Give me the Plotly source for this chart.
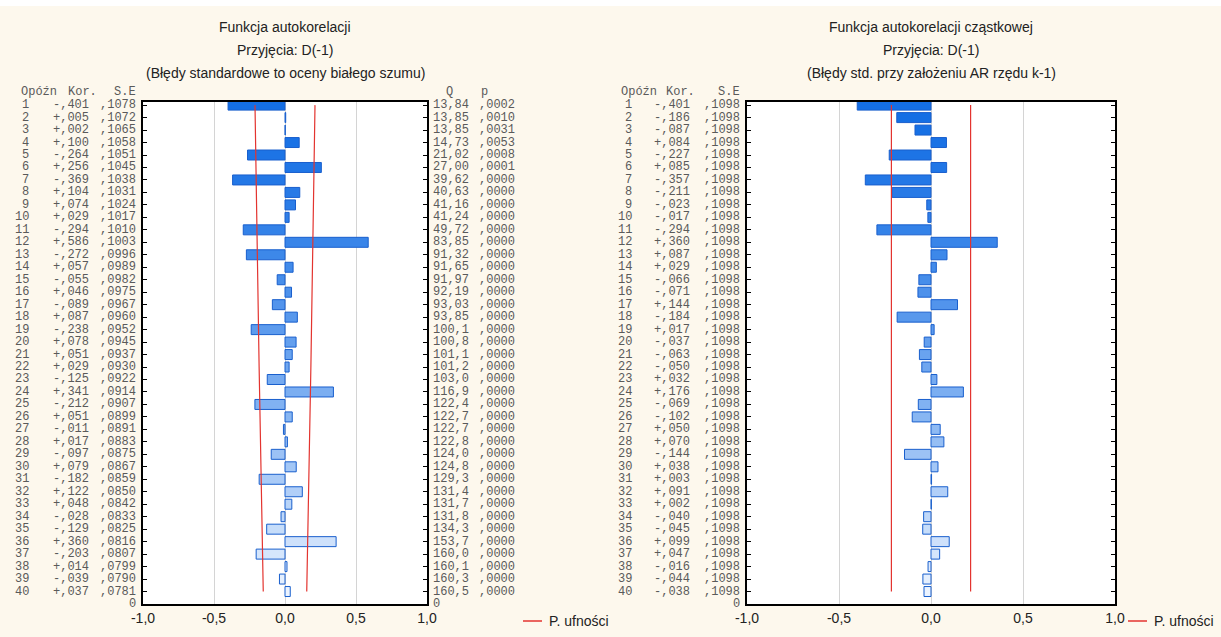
import plotly.graph_objects as go

W, H = 1221, 637

lags = list(range(1, 41))

acf = [-.401, .005, .002, .100, -.264, .256, -.369, .104, .074, .029,
       -.294, .586, -.272, .057, -.055, .046, -.089, .087, -.238, .078,
       .051, .029, -.125, .341, -.212, .051, -.011, .017, -.097, .079,
       -.182, .122, .048, -.028, -.129, .360, -.203, .014, -.039, .037]

acf_se = [.1078, .1072, .1065, .1058, .1051, .1045, .1038, .1031, .1024, .1017,
          .1010, .1003, .0996, .0989, .0982, .0975, .0967, .0960, .0952, .0945,
          .0937, .0930, .0922, .0914, .0907, .0899, .0891, .0883, .0875, .0867,
          .0859, .0850, .0842, .0833, .0825, .0816, .0807, .0799, .0790, .0781]

q_stat = [13.84, 13.85, 13.85, 14.73, 21.02, 27.00, 39.62, 40.63, 41.16, 41.24,
          49.72, 83.85, 91.32, 91.65, 91.97, 92.19, 93.03, 93.85, 100.1, 100.8,
          101.1, 101.2, 103.0, 116.9, 122.4, 122.7, 122.7, 122.8, 124.0, 124.8,
          129.3, 131.4, 131.7, 131.8, 134.3, 153.7, 160.0, 160.1, 160.3, 160.5]

p_val = [.0002, .0010, .0031, .0053, .0008, .0001] + [.0000] * 34

pacf = [-.401, -.186, -.087, .084, -.227, .085, -.357, -.211, -.023, -.017,
        -.294, .360, .087, .029, -.066, -.071, .144, -.184, .017, -.037,
        -.063, -.050, .032, .176, -.069, -.102, .050, .070, -.144, .038,
        .003, .091, .002, -.040, -.045, .099, .047, -.016, -.044, -.038]

pacf_se = [.1098] * 40

x_ticks = [-1.0, -0.5, 0.0, 0.5, 1.0]
x_ticktext = ["-1,0", "-0,5", "0,0", "0,5", "1,0"]

titles_left = ["Funkcja autokorelacji", "Przyjęcia: D(-1)",
               "(Błędy standardowe to oceny białego szumu)"]
titles_right = ["Funkcja autokorelacji cząstkowej", "Przyjęcia: D(-1)",
                "(Błędy std. przy założeniu AR rzędu k-1)"]
legend_label = "P. ufności"
z = 1.96


def px(p):
    return p / W


def py(p):
    return 1 - p / H


def fmt_corr(v):
    s = f"{abs(v):.3f}"[1:].replace(".", ",")
    return ("-" if v < 0 else "+") + s


def fmt_se(v):
    return f"{v:.4f}"[1:].replace(".", ",")


def fmt_q(v):
    return (f"{v:.2f}" if v < 100 else f"{v:.1f}").replace(".", ",")


def bar_colors(n):
    c0 = (20, 110, 228)
    c1 = (236, 244, 255)
    out = []
    for i in range(n):
        t = (i / (n - 1)) ** 1.4
        c = [round(a + (b - a) * t) for a, b in zip(c0, c1)]
        out.append(f"rgb({c[0]},{c[1]},{c[2]})")
    return out


cols = bar_colors(len(lags))
RED = "#e3342f"
MONO = dict(family="Liberation Mono, DejaVu Sans Mono, monospace", size=12, color="#5a5a5a")
NARROW = "Liberation Sans Narrow, Arial Narrow, Liberation Sans, Arial"

fig = go.Figure()

# left: ACF
fig.add_trace(go.Bar(x=acf, y=lags, orientation="h", width=0.8,
                     marker=dict(color=cols, line=dict(color="rgb(25,95,205)", width=1)),
                     xaxis="x", yaxis="y", showlegend=False))
fig.add_trace(go.Scatter(x=[z * s for s in acf_se], y=lags, mode="lines",
                         line=dict(color=RED, width=1.2), xaxis="x", yaxis="y", showlegend=False))
fig.add_trace(go.Scatter(x=[-z * s for s in acf_se], y=lags, mode="lines",
                         line=dict(color=RED, width=1.2), xaxis="x", yaxis="y", showlegend=False))

# right: PACF
fig.add_trace(go.Bar(x=pacf, y=lags, orientation="h", width=0.8,
                     marker=dict(color=cols, line=dict(color="rgb(25,95,205)", width=1)),
                     xaxis="x2", yaxis="y2", showlegend=False))
fig.add_trace(go.Scatter(x=[z * s for s in pacf_se], y=lags, mode="lines",
                         line=dict(color=RED, width=1.2), xaxis="x2", yaxis="y2", showlegend=False))
fig.add_trace(go.Scatter(x=[-z * s for s in pacf_se], y=lags, mode="lines",
                         line=dict(color=RED, width=1.2), xaxis="x2", yaxis="y2", showlegend=False))

xcommon = dict(range=[-1, 1], tickvals=x_ticks, ticktext=x_ticktext, showgrid=True,
               gridcolor="#d4d4d4", gridwidth=1, zeroline=False, showline=True,
               linecolor="black", linewidth=1.5, mirror=True, ticks="",
               tickfont=dict(family=NARROW, size=14, color="#222"), fixedrange=True,
               automargin=False)
ycommon = dict(range=[41, 0.75], tickvals=lags, showticklabels=False, ticks="inside",
               ticklen=4, tickcolor="black", showgrid=False, zeroline=False, showline=True,
               linecolor="black", linewidth=1.5, mirror="ticks",
               domain=[py(604), py(102)], fixedrange=True, automargin=False)

fig.update_layout(
    width=W, height=H, autosize=False, margin=dict(l=0, r=0, t=0, b=0, pad=0),
    paper_bgcolor="#fdf8ed", plot_bgcolor="white",
    xaxis=dict(domain=[px(143), px(427)], anchor="y", **xcommon),
    yaxis=dict(anchor="x", **ycommon),
    xaxis2=dict(domain=[px(747), px(1115)], anchor="y2", **xcommon),
    yaxis2=dict(anchor="x2", **ycommon),
    bargap=0.2,
)

ann = []
shapes = [dict(type="rect", xref="paper", yref="paper", x0=0, x1=1, y0=py(6), y1=1,
               fillcolor="white", line=dict(width=0), layer="below")]


def txt(text, x, y, xanchor="center", yref="paper", font=None):
    ann.append(dict(text=text, x=x, y=y, xref="paper", yref=yref, xanchor=xanchor,
                    yanchor="middle", showarrow=False, font=font or MONO))


# titles
for cx, tl in ((285, titles_left), (931, titles_right)):
    for i, t in enumerate(tl):
        txt(t, px(cx), py(27 + 23 * i), font=dict(family=NARROW, size=14, color="#222"))

# headers
hy = py(92)
txt("Opóźn", px(19), hy, "left")
txt("Kor.", px(66), hy, "left")
txt("S.E", px(138), hy, "right")
txt("Q", px(449), hy)
txt("p", px(484), hy)
txt("Opóźn", px(619), hy, "left")
txt("Kor.", px(664), hy, "left")
txt("S.E", px(742), hy, "right")

for i, lag in enumerate(lags):
    txt(str(lag), px(31), lag, "right", "y")
    txt(fmt_corr(acf[i]), px(91), lag, "right", "y")
    txt(fmt_se(acf_se[i]), px(138), lag, "right", "y")
    txt(fmt_q(q_stat[i]), px(431), lag, "left", "y")
    txt(fmt_se(p_val[i]), px(477), lag, "left", "y")
    txt(str(lag), px(634), lag, "right", "y2")
    txt(fmt_corr(pacf[i]), px(692), lag, "right", "y2")
    txt(fmt_se(pacf_se[i]), px(742), lag, "right", "y2")

txt("0", px(138), 41, "right", "y")
txt("0", px(431), 41, "left", "y")
txt("0", px(742), 41, "right", "y2")

# legends
for x0, x1, tx in ((523, 542, 547), (1128, 1147, 1152)):
    shapes.append(dict(type="line", xref="paper", yref="paper", x0=px(x0), x1=px(x1),
                       y0=py(621), y1=py(621), line=dict(color=RED, width=1.5)))
    txt(legend_label, px(tx), py(621), "left", font=dict(family=NARROW, size=14, color="#222"))

fig.update_layout(annotations=ann, shapes=shapes)
fig.write_html(
    "out.html",
    config={"displayModeBar": False},
    post_script="document.body.style.margin='0';document.body.style.padding='0';"
                "document.documentElement.style.overflow='hidden';"
                "document.body.style.overflow='hidden';",
)
